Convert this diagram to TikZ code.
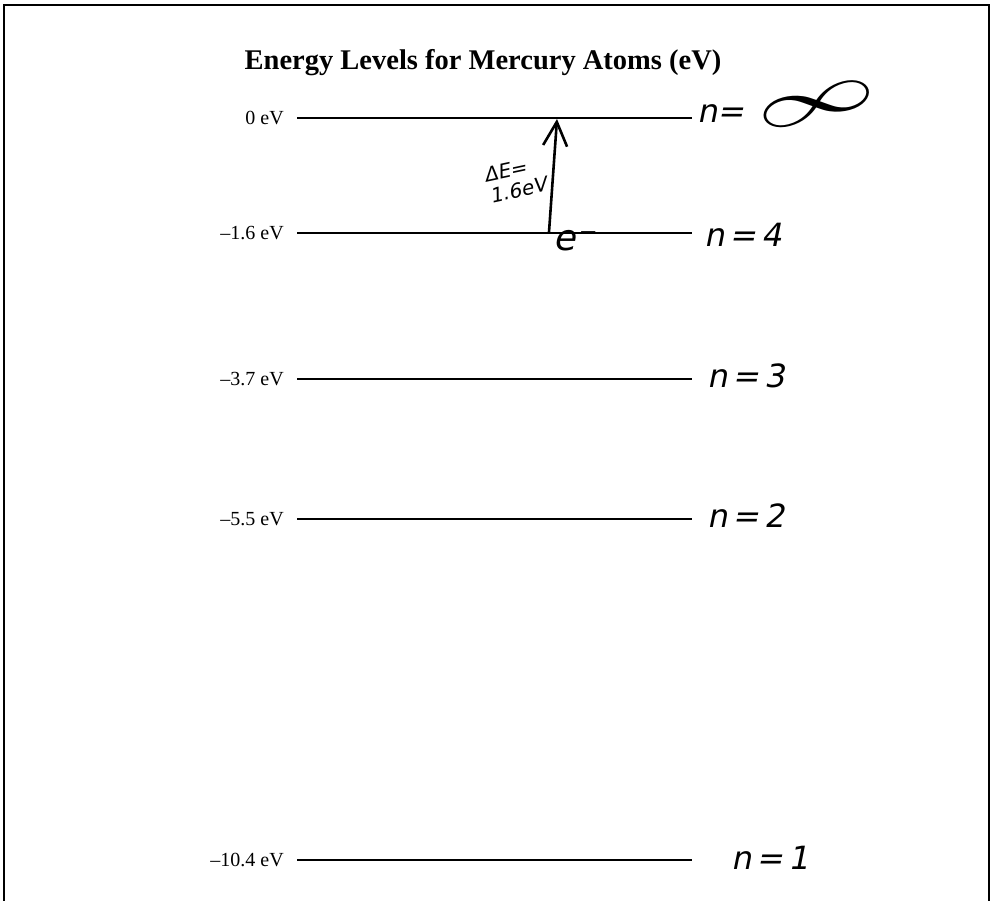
\documentclass[tikz,border=0pt]{standalone}
\usepackage{fontspec}
\setmainfont{Liberation Serif}
\newfontfamily\hand{DejaVu Sans}[FakeSlant=0.2]
\usetikzlibrary{arrows.meta}
\begin{document}
\begin{tikzpicture}[x=1pt,y=-1pt,
  level/.style={line width=2pt},
  lbl/.style={anchor=east,inner sep=0pt,font=\fontsize{20}{21}\selectfont},
  hw/.style={anchor=west,inner sep=0pt,font=\hand\fontsize{32}{34}\selectfont},
  pen/.style={line width=2.6pt,line cap=round,line join=round}]
\useasboundingbox (0,0) rectangle (992,901);
\fill[white] (0,0) rectangle (992,901);
\draw[line width=1.5pt] (4,901) -- (4,5) -- (989,5) -- (989,901);
% title
\node[inner sep=0pt,font=\bfseries\fontsize{28.5}{32}\selectfont] (title) at (483,63) {Energy Levels for Mercury Atoms (eV)};
% levels
\coordinate (a0) at (297,118); \coordinate (b0) at (692,118);
\coordinate (a4) at (297,233); \coordinate (b4) at (692,233);
\coordinate (a3) at (297,379); \coordinate (b3) at (692,379);
\coordinate (a2) at (297,519); \coordinate (b2) at (692,519);
\coordinate (a1) at (297,860); \coordinate (b1) at (692,860);
\draw[level] (a0) -- (b0);
\draw[level] (a4) -- (b4);
\draw[level] (a3) -- (b3);
\draw[level] (a2) -- (b2);
\draw[level] (a1) -- (b1);
\node[lbl] (l0) at (284,118) {0 eV};
\node[lbl] (l4) at (284,233) {–1.6 eV};
\node[lbl] (l3) at (284,379) {–3.7 eV};
\node[lbl] (l2) at (284,519) {–5.5 eV};
\node[lbl] (l1) at (284,860) {–10.4 eV};
% handwritten level names
\node[hw] (n0) at (697,114) {n=};
\node[inner sep=0pt,rotate=15] (inf) at (817,104) {\resizebox{122pt}{28pt}{$\infty$}};
\node[hw] (n4) at (704,235) {n\,=\,4};
\node[hw] (n3) at (707,376) {n\,=\,3};
\node[hw] (n2) at (707,516) {n\,=\,2};
\node[hw] (n1) at (731,858) {n\,=\,1};
% electron and transition
\node[hw,anchor=base west,font=\hand\fontsize{36}{36}\selectfont] (el) at (553,251) {e⁻};
\coordinate (abot) at (549,232);
\coordinate (atop) at (557,119);
\draw[pen,-{Straight Barb[length=24pt,width=24pt]}] (abot) -- (atop);
\node[inner sep=0pt,rotate=12,font=\hand\fontsize{20}{20}\selectfont] (dE1) at (505,171) {ΔE=};
\node[inner sep=0pt,rotate=12,font=\hand\fontsize{20}{20}\selectfont] (dE2) at (518,190) {1.6eV};
\end{tikzpicture}
\end{document}
